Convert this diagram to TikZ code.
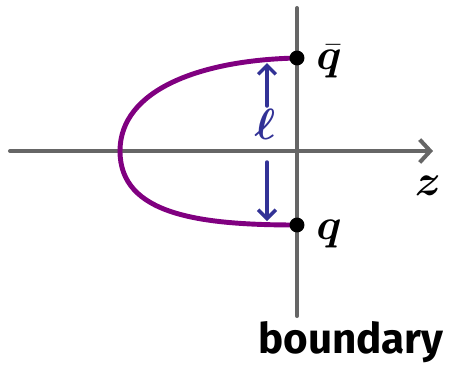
\documentclass[tikz,border=0pt]{standalone}
\usepackage{amsmath,amssymb}
\usepackage{bm}
\usepackage{xcolor}
\usepackage{fontspec}
\setsansfont{Fira Sans}
\usepackage{tikz}
\usetikzlibrary{positioning,arrows.meta,calc}
\definecolor{axisgray}{RGB}{102,102,102}
\definecolor{pathpurple}{RGB}{128,0,128}
\definecolor{sepblue}{RGB}{50,50,150}

\begin{document}
\begin{tikzpicture}[x=0.02cm,y=-0.02cm,
    axis/.style={axisgray,line width=2.3pt,line cap=round},
    curve/.style={pathpurple,line width=2.8pt},
    sep/.style={sepblue,line width=2pt,line cap=round,-{Straight Barb[length=5pt,width=10pt,line width=2pt]}},
    endpt/.style={circle,fill=black,inner sep=0pt,minimum size=8.5pt},
    lab/.style={font=\fontsize{25}{27}\selectfont}]
  \useasboundingbox (0,0) rectangle (453,380);
  % axes
  \coordinate (xleft) at (10,151);
  \coordinate (xright) at (433,151);
  \coordinate (ytop) at (297,8);
  \coordinate (ybot) at (297,316);
  \draw[axis,-{Straight Barb[length=6pt,width=13pt,line width=2.3pt]}] (xleft) -- (xright);
  \draw[axis] (ytop) -- (ybot);
  % path from q to qbar
  \coordinate (top) at (297,58);
  \coordinate (bot) at (297,225);
  \coordinate (turn) at (120,151);
  \draw[curve] (top) .. controls (200,60) and (120,90) .. (turn)
                     .. controls (120,215) and (200,225) .. (bot);
  \node[endpt] (qbar) at (top) {};
  \node[endpt] (q) at (bot) {};
  % separation l
  \node[lab,sepblue] (ell) at (265,124) {$\bm{\ell}$};
  \coordinate (upfrom) at (267,106);
  \coordinate (upto) at (267,63);
  \coordinate (downfrom) at (267,162);
  \coordinate (downto) at (267,221);
  \draw[sep] (upfrom) -- (upto);
  \draw[sep] (downfrom) -- (downto);
  % labels
  \node[lab,right=3pt of qbar,yshift=-2pt] (qbarlab) {$\bm{\bar{q}}$};
  \node[lab,right=3pt of q,yshift=-5pt] (qlab) {$\bm{q}$};
  \node[lab] (zlab) at (428,186) {$\bm{z}$};
  \node[font=\sffamily\bfseries\fontsize{24}{26}\selectfont] (bdry) at (351,342) {boundary};
\end{tikzpicture}
\end{document}
